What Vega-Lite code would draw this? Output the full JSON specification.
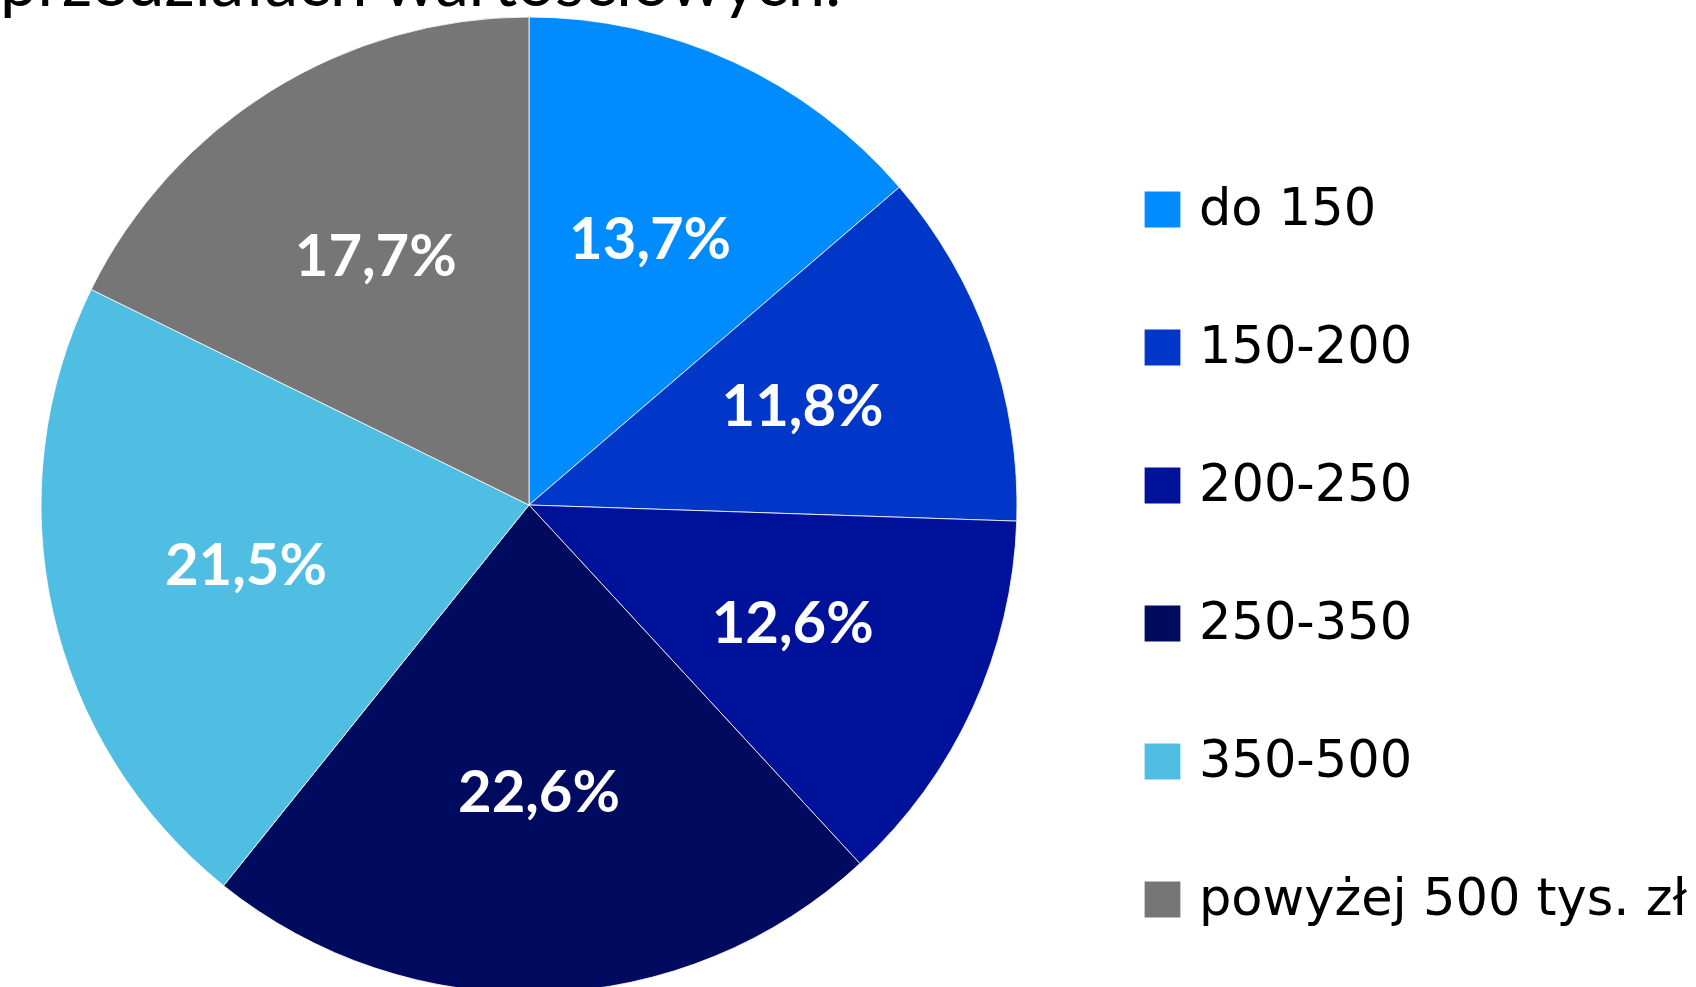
{
  "$schema": "https://vega.github.io/schema/vega-lite/v6.json",
  "autosize": {"type": "none"},
  "width": 1058,
  "height": 1010,
  "padding": {"left": 0, "top": 0, "right": 638, "bottom": -23},
  "background": "#ffffff",
  "title": {
    "text": "przedziałach wartościowych.",
    "anchor": "start",
    "frame": "group",
    "orient": "top",
    "offset": -73,
    "baseline": "alphabetic",
    "font": "Lato",
    "fontSize": 67,
    "fontWeight": "normal",
    "color": "#000000"
  },
  "data": {
    "values": [
      {"kategoria": "do 150", "udzial": 13.7, "kolejnosc": 1, "etykieta": "13,7%"},
      {"kategoria": "150-200", "udzial": 11.8, "kolejnosc": 2, "etykieta": "11,8%"},
      {"kategoria": "200-250", "udzial": 12.6, "kolejnosc": 3, "etykieta": "12,6%"},
      {"kategoria": "250-350", "udzial": 22.6, "kolejnosc": 4, "etykieta": "22,6%"},
      {"kategoria": "350-500", "udzial": 21.5, "kolejnosc": 5, "etykieta": "21,5%"},
      {"kategoria": "powyżej 500 tys. zł", "udzial": 17.7, "kolejnosc": 6, "etykieta": "17,7%"}
    ]
  },
  "encoding": {
    "theta": {"field": "udzial", "type": "quantitative", "stack": true},
    "order": {"field": "kolejnosc", "type": "quantitative", "sort": "ascending"}
  },
  "layer": [
    {
      "mark": {"type": "arc", "outerRadius": 488, "stroke": "#ffffff", "strokeWidth": 0.8},
      "encoding": {
        "color": {
          "field": "kategoria",
          "type": "nominal",
          "scale": {
            "domain": ["do 150", "150-200", "200-250", "250-350", "350-500", "powyżej 500 tys. zł"],
            "range": ["#008CFF", "#0037C8", "#00129A", "#000A5E", "#50BEE2", "#767676"]
          },
          "legend": {
            "title": null,
            "orient": "none",
            "legendX": 1137,
            "legendY": 184,
            "symbolType": "square",
            "symbolSize": 1280,
            "symbolStrokeWidth": 0,
            "symbolOpacity": 1,
            "labelFont": "DejaVu Sans",
            "labelFontSize": 51,
            "labelColor": "#000000",
            "labelOffset": 11,
            "labelLimit": 700,
            "rowPadding": 86
          }
        }
      }
    },
    {
      "mark": {"type": "text", "radius": 290, "font": "Lato", "fontWeight": "bold", "fontSize": 58, "color": "#ffffff", "align": "center", "baseline": "middle"},
      "encoding": {
        "text": {"field": "etykieta", "type": "nominal"}
      }
    }
  ]
}
